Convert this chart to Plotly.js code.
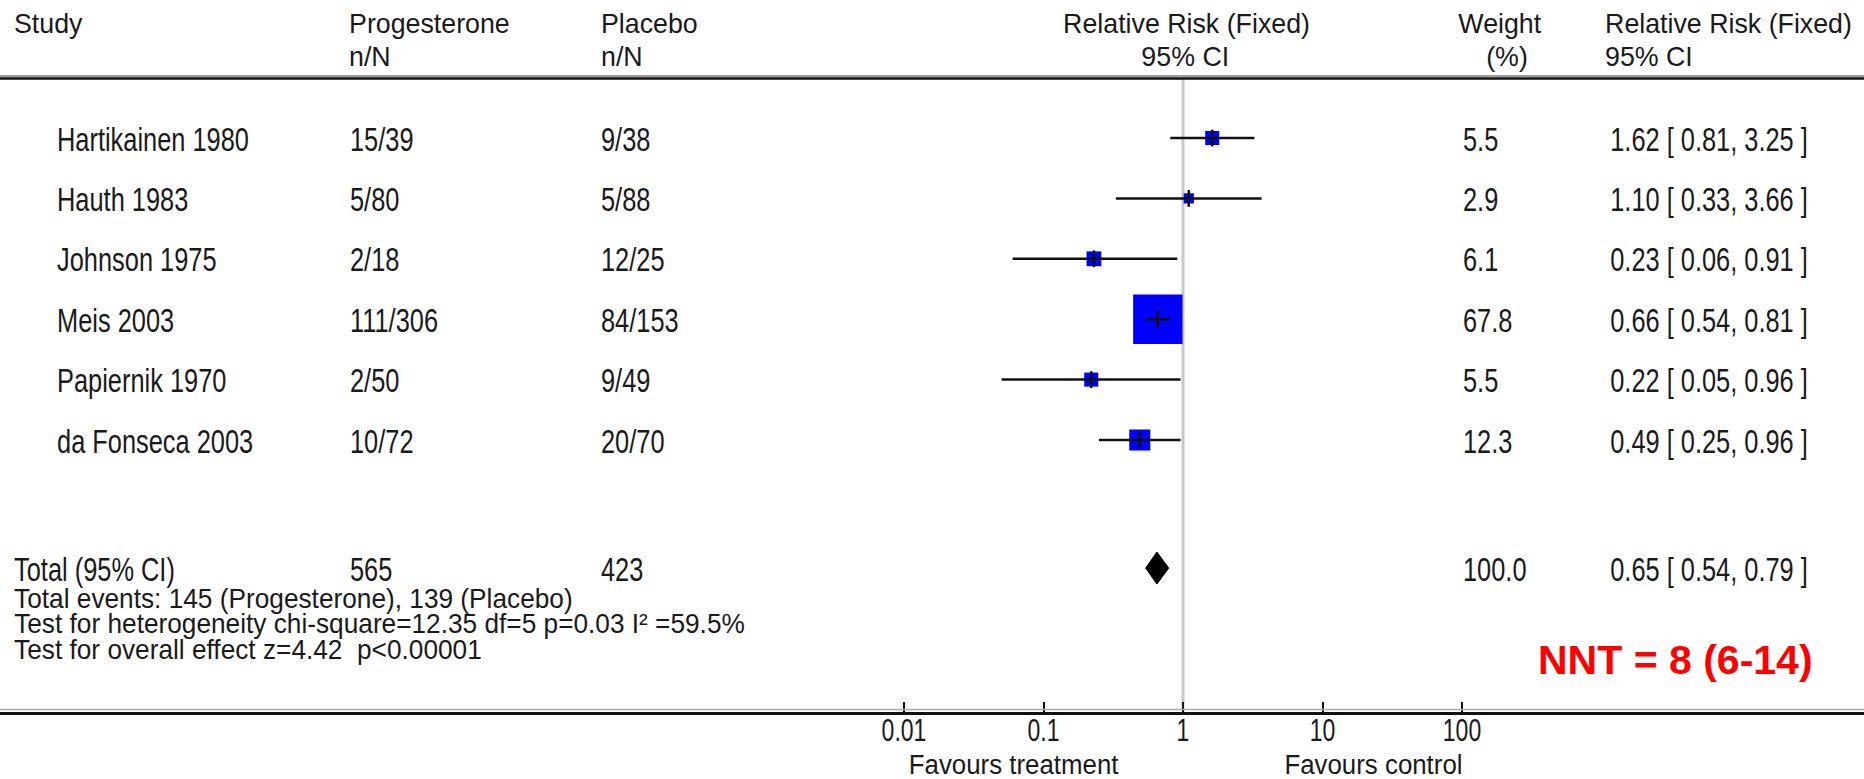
<!DOCTYPE html>
<html><head><meta charset="utf-8">
<script src="https://cdn.plot.ly/plotly-3.0.1.min.js"></script>
<style>html,body{margin:0;padding:0;background:#fff;overflow:hidden}#chart{width:1864px;height:779px}</style>
</head><body><div id="chart"></div>
<script>
// ---------------- data ----------------
const studies = ['Hartikainen 1980','Hauth 1983','Johnson 1975','Meis 2003','Papiernik 1970','da Fonseca 2003'];
const progesterone = ['15/39','5/80','2/18','111/306','2/50','10/72'];
const placebo = ['9/38','5/88','12/25','84/153','9/49','20/70'];
const weights = [5.5, 2.9, 6.1, 67.8, 5.5, 12.3];
const rr = [1.62, 1.10, 0.23, 0.66, 0.22, 0.49];
const ciLow = [0.81, 0.33, 0.06, 0.54, 0.05, 0.25];
const ciHigh = [3.25, 3.66, 0.91, 0.81, 0.96, 0.96];

const totalLabel = 'Total (95% CI)';
const totalProg = '565';
const totalPlac = '423';
const totalWeight = 100.0;
const totalRR = 0.65, totalLow = 0.54, totalHigh = 0.79;

const footLines = [
  'Total events: 145 (Progesterone), 139 (Placebo)',
  'Test for heterogeneity chi-square=12.35 df=5 p=0.03 I² =59.5%',
  'Test for overall effect z=4.42  p<0.00001'
];
const tickVals = [0.01, 0.1, 1, 10, 100];
const tickText = ['0.01', '0.1', '1', '10', '100'];
const favours = ['Favours treatment', 'Favours control'];
const nntText = 'NNT = 8 (6-14)';

// ---------------- geometry / style ----------------
const W = 1864, H = 779, plotBottom = 712;
const rowTop = 138, rowStep = 60.4;
const xOne = 1183, decade = 139.5;
const totalRow = 7.12;
const FONT = '"Liberation Sans", Arial, sans-serif';
const TXT = '#1a1a1a';

// text groups: font size + horizontal condensing calibrated on one sample text width
const groupStyle = {
  row:  { size: 33, calib: 'Hartikainen 1980', target: 192 },
  head: { size: 27, calib: 'Relative Risk (Fixed)', target: 247 },
  foot: { size: 28, calib: footLines[1], target: 731 },
  fav:  { size: 28, calib: favours[0], target: 210 },
  tick: { size: 32, calib: '0.1', target: 32 }
};

const yOfPx = py => (py - rowTop) / rowStep;       // pixel -> row units
const px2x = px => px / W;                           // pixel -> paper x
const py2p = py => (plotBottom - py) / plotBottom;   // pixel -> paper y
const rowIdx = studies.map((_, i) => i);
const fmtCI = (r, l, h) => r.toFixed(2) + ' [ ' + l.toFixed(2) + ', ' + h.toFixed(2) + ' ]';

const traces = [
  { // line of no effect
    x: [1, 1], y: [yOfPx(79), yOfPx(plotBottom)], mode: 'lines',
    line: { color: '#c8c8c8', width: 3 }, hoverinfo: 'skip', showlegend: false
  },
  { // weight squares
    x: rr, y: rowIdx, mode: 'markers', hoverinfo: 'skip', showlegend: false,
    marker: { symbol: 'square', size: weights.map(w => 6 * Math.sqrt(w)), color: '#0000ff', opacity: 1, line: { width: 0 } }
  },
  { // confidence intervals
    x: rr, y: rowIdx, mode: 'markers', hoverinfo: 'skip', showlegend: false,
    marker: { size: 1, color: 'rgba(0,0,0,0)' },
    error_x: { type: 'data', symmetric: false,
      array: rr.map((r, i) => ciHigh[i] - r), arrayminus: rr.map((r, i) => r - ciLow[i]),
      width: 0, thickness: 2.5, color: '#111' }
  },
  { // point-estimate ticks
    x: rr, y: rowIdx, mode: 'markers', hoverinfo: 'skip', showlegend: false,
    marker: { symbol: 'line-ns', size: 12, opacity: 1, line: { width: 2.5, color: '#111' } }
  },
  { // pooled diamond
    x: [totalLow, totalRR, totalHigh, totalRR, totalLow],
    y: [totalRow, totalRow - 16 / rowStep, totalRow, totalRow + 16 / rowStep, totalRow],
    mode: 'lines', fill: 'toself', fillcolor: '#000', line: { color: '#000', width: 1 },
    hoverinfo: 'skip', showlegend: false
  }
];

const ann = [], annGroup = [];
function addP(text, px, py, anchor, group) {
  ann.push({ text: text, x: px2x(px), y: py2p(py), xref: 'paper', yref: 'paper',
    xanchor: anchor, yanchor: 'middle', showarrow: false,
    font: { family: FONT, size: groupStyle[group].size, color: TXT } });
  annGroup.push(group);
}
function addR(text, px, row, anchor) {
  ann.push({ text: text, x: px2x(px), y: row, xref: 'paper', yref: 'y',
    xanchor: anchor, yanchor: 'middle', showarrow: false, yshift: -1,
    font: { family: FONT, size: groupStyle.row.size, color: TXT } });
  annGroup.push('row');
}
// header
addP('Study', 12, 24, 'left', 'head');
addP('Progesterone', 347, 24, 'left', 'head');
addP('n/N', 347, 57, 'left', 'head');
addP('Placebo', 599, 24, 'left', 'head');
addP('n/N', 599, 57, 'left', 'head');
addP('Relative Risk (Fixed)', 1186, 24, 'center', 'head');
addP('95% CI', 1185, 57, 'center', 'head');
addP('Weight', 1500, 24, 'center', 'head');
addP('(%)', 1507, 57, 'center', 'head');
addP('Relative Risk (Fixed)', 1603, 24, 'left', 'head');
addP('95% CI', 1603, 57, 'left', 'head');
// study rows
studies.forEach((s, i) => {
  addR(s, 55, i, 'left');
  addR(progesterone[i], 348, i, 'left');
  addR(placebo[i], 599, i, 'left');
  addR(weights[i].toFixed(1), 1461, i, 'left');
  addR(fmtCI(rr[i], ciLow[i], ciHigh[i]), 1810, i, 'right');
});
// total row
addR(totalLabel, 12, totalRow, 'left');
addR(totalProg, 348, totalRow, 'left');
addR(totalPlac, 599, totalRow, 'left');
addR(totalWeight.toFixed(1), 1461, totalRow, 'left');
addR(fmtCI(totalRR, totalLow, totalHigh), 1810, totalRow, 'right');
// footnotes
footLines.forEach((t, i) => addP(t, 12, 598 + i * 25.5, 'left', 'foot'));
// favours
addP(favours[0], 1013, 764, 'center', 'fav');
addP(favours[1], 1373, 764, 'center', 'fav');
// NNT (not condensed)
ann.push({ text: '<b>' + nntText + '</b>', x: px2x(1815), y: py2p(660), xref: 'paper', yref: 'paper',
  xanchor: 'right', yanchor: 'middle', showarrow: false,
  font: { family: '"Liberation Sans", Arial, sans-serif', size: 41, color: '#ff0000' } });
annGroup.push(null);

const layout = {
  width: W, height: H, paper_bgcolor: '#fff', plot_bgcolor: '#fff',
  margin: { l: 0, r: 0, t: 0, b: H - plotBottom, pad: 0 },
  showlegend: false,
  xaxis: {
    type: 'log', range: [-xOne / decade, (W - xOne) / decade], fixedrange: true,
    tickvals: tickVals, ticktext: tickText, ticks: 'inside', ticklen: 10, tickwidth: 2, tickcolor: '#111',
    ticklabelstandoff: -12,
    showline: true, linewidth: 3, linecolor: '#111', showgrid: false, zeroline: false,
    tickfont: { family: FONT, size: groupStyle.tick.size, color: TXT }
  },
  yaxis: {
    range: [(plotBottom - rowTop) / rowStep, -rowTop / rowStep], fixedrange: true,
    showticklabels: false, ticks: '', showgrid: false, zeroline: false, showline: false
  },
  shapes: [
    { type: 'line', xref: 'paper', yref: 'paper', x0: 0, x1: 1, y0: py2p(76), y1: py2p(76), line: { color: '#999', width: 2 } },
    { type: 'line', xref: 'paper', yref: 'paper', x0: 0, x1: 1, y0: py2p(78.5), y1: py2p(78.5), line: { color: '#111', width: 2.5 } },
    { type: 'line', xref: 'paper', yref: 'paper', x0: 0, x1: 1, y0: py2p(709.5), y1: py2p(709.5), line: { color: '#aaa', width: 1.5 } }
  ],
  annotations: ann
};

function condense(el, sx, anchor) {
  const bb = el.getBBox();
  const ax = anchor === 'left' ? bb.x : anchor === 'right' ? bb.x + bb.width : bb.x + bb.width / 2;
  const prev = el.getAttribute('transform') || '';
  el.setAttribute('transform', prev + ' translate(' + ax + ',0) scale(' + sx + ',1) translate(' + (-ax) + ',0)');
}

Plotly.newPlot('chart', traces, layout, { displayModeBar: false, staticPlot: true }).then(gd => {
  const texts = ann.map((a, i) => gd.querySelector('.annotation[data-index="' + i + '"] .annotation-text'));
  const sxOf = {};
  Object.keys(groupStyle).forEach(g => {
    if (g === 'tick') return;
    const i = ann.findIndex((a, k) => annGroup[k] === g && a.text === groupStyle[g].calib);
    if (i >= 0 && texts[i]) sxOf[g] = groupStyle[g].target / texts[i].getBBox().width;
  });
  ann.forEach((a, i) => {
    const g = annGroup[i];
    if (!g || !texts[i] || !sxOf[g]) return;
    condense(texts[i], sxOf[g], a.xanchor);
  });
  const tickEls = Array.from(gd.querySelectorAll('.xtick text'));
  const cal = tickEls.find(t => t.textContent === groupStyle.tick.calib);
  if (cal) {
    const sx = groupStyle.tick.target / cal.getBBox().width;
    tickEls.forEach(t => condense(t, sx, 'center'));
  }
});
</script>
</body></html>
